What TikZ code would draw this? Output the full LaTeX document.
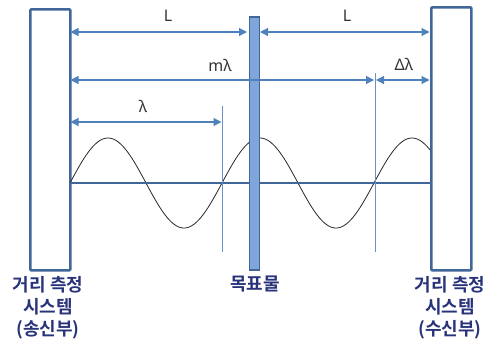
\documentclass[tikz,border=0pt]{standalone}
\usepackage{fontspec}
\setmainfont{Noto Sans}
\newfontfamily\krfont{Noto Sans CJK KR}[BoldFont={Noto Sans CJK KR Bold}]
\usetikzlibrary{arrows.meta}
\definecolor{boxc}{HTML}{41679A}
\definecolor{barfill}{HTML}{7EA6DA}
\definecolor{arrc}{HTML}{4F81BD}
\definecolor{vlinec}{HTML}{6A92C8}
\definecolor{krtext}{HTML}{28337A}
\tikzset{
  sysbox/.style={draw=boxc,line width=2.6pt,rounded corners=1pt},
  dimarr/.style={draw=arrc,line width=1.1pt,{Triangle[length=8pt,width=8pt]}-{Triangle[length=8pt,width=8pt]},fill=arrc},
  guide/.style={draw=vlinec,line width=0.8pt},
  lbl/.style={font=\fontsize{16}{18}\selectfont,text=black!80},
  krlbl/.style={font=\krfont\fontsize{18}{22}\selectfont,text=krtext,align=center,inner sep=0pt}
}
\begin{document}
\begin{tikzpicture}[x=1pt,y=-1pt]
\useasboundingbox (0,0) rectangle (489,349);
% boxes
\node[sysbox,minimum width=40pt,minimum height=261pt,anchor=north west,inner sep=0pt] (tx) at (29,8) {};
\node[sysbox,minimum width=40pt,minimum height=263pt,anchor=north west,inner sep=0pt] (rx) at (430,6) {};
% wave
\draw[black!85,line width=0.8pt,domain=70:430,samples=200,smooth] plot (\x,{183-45*sin(2.36842*(\x-70))});
% baseline
\coordinate (b0) at (70,183);
\coordinate (b1) at (430,183);
\draw[boxc,line width=2.6pt] (b0) -- (b1);
% target
\node[draw=boxc,fill=barfill,line width=1.6pt,minimum width=10pt,minimum height=253pt,anchor=north west,inner sep=0pt] (tg) at (248.5,16) {};
% guides
\coordinate (g1t) at (222,106);
\coordinate (g1b) at (222,252);
\coordinate (g2t) at (375,73);
\coordinate (g2b) at (375,252);
\draw[guide] (g1t) -- (g1b);
\draw[guide] (g2t) -- (g2b);
% L arrows
\coordinate (a1) at (70.5,32); \coordinate (a2) at (247,32);
\coordinate (a3) at (260,32); \coordinate (a4) at (429.5,32);
\draw[dimarr] (a1) -- (a2);
\draw[dimarr] (a3) -- (a4);
\node[lbl] (l1) at (168,16) {L};
\node[lbl] (l2) at (347,16) {L};
% m lambda
\coordinate (m1) at (70.5,80); \coordinate (m2) at (374,80);
\coordinate (d1) at (376,80); \coordinate (d2) at (429.5,80);
\draw[dimarr] (m1) -- (m2);
\draw[dimarr] (d1) -- (d2);
\node[lbl] (ml) at (220,65) {mλ};
\node[lbl] (dl) at (404,64) {Δλ};
% lambda
\coordinate (w1) at (70.5,122); \coordinate (w2) at (221.5,122);
\draw[dimarr] (w1) -- (w2);
\node[lbl] (wl) at (143,106) {λ};
% korean labels
\node[krlbl,anchor=north] (txl) at (48,276) {\bfseries 거리 측정\\\bfseries 시스템\\\bfseries (송신부)};
\node[krlbl,anchor=north] (tgl) at (255,276) {\bfseries 목표물};
\node[krlbl,anchor=north] (rxl) at (450,276) {\bfseries 거리 측정\\\bfseries 시스템\\\bfseries (수신부)};
\end{tikzpicture}
\end{document}
